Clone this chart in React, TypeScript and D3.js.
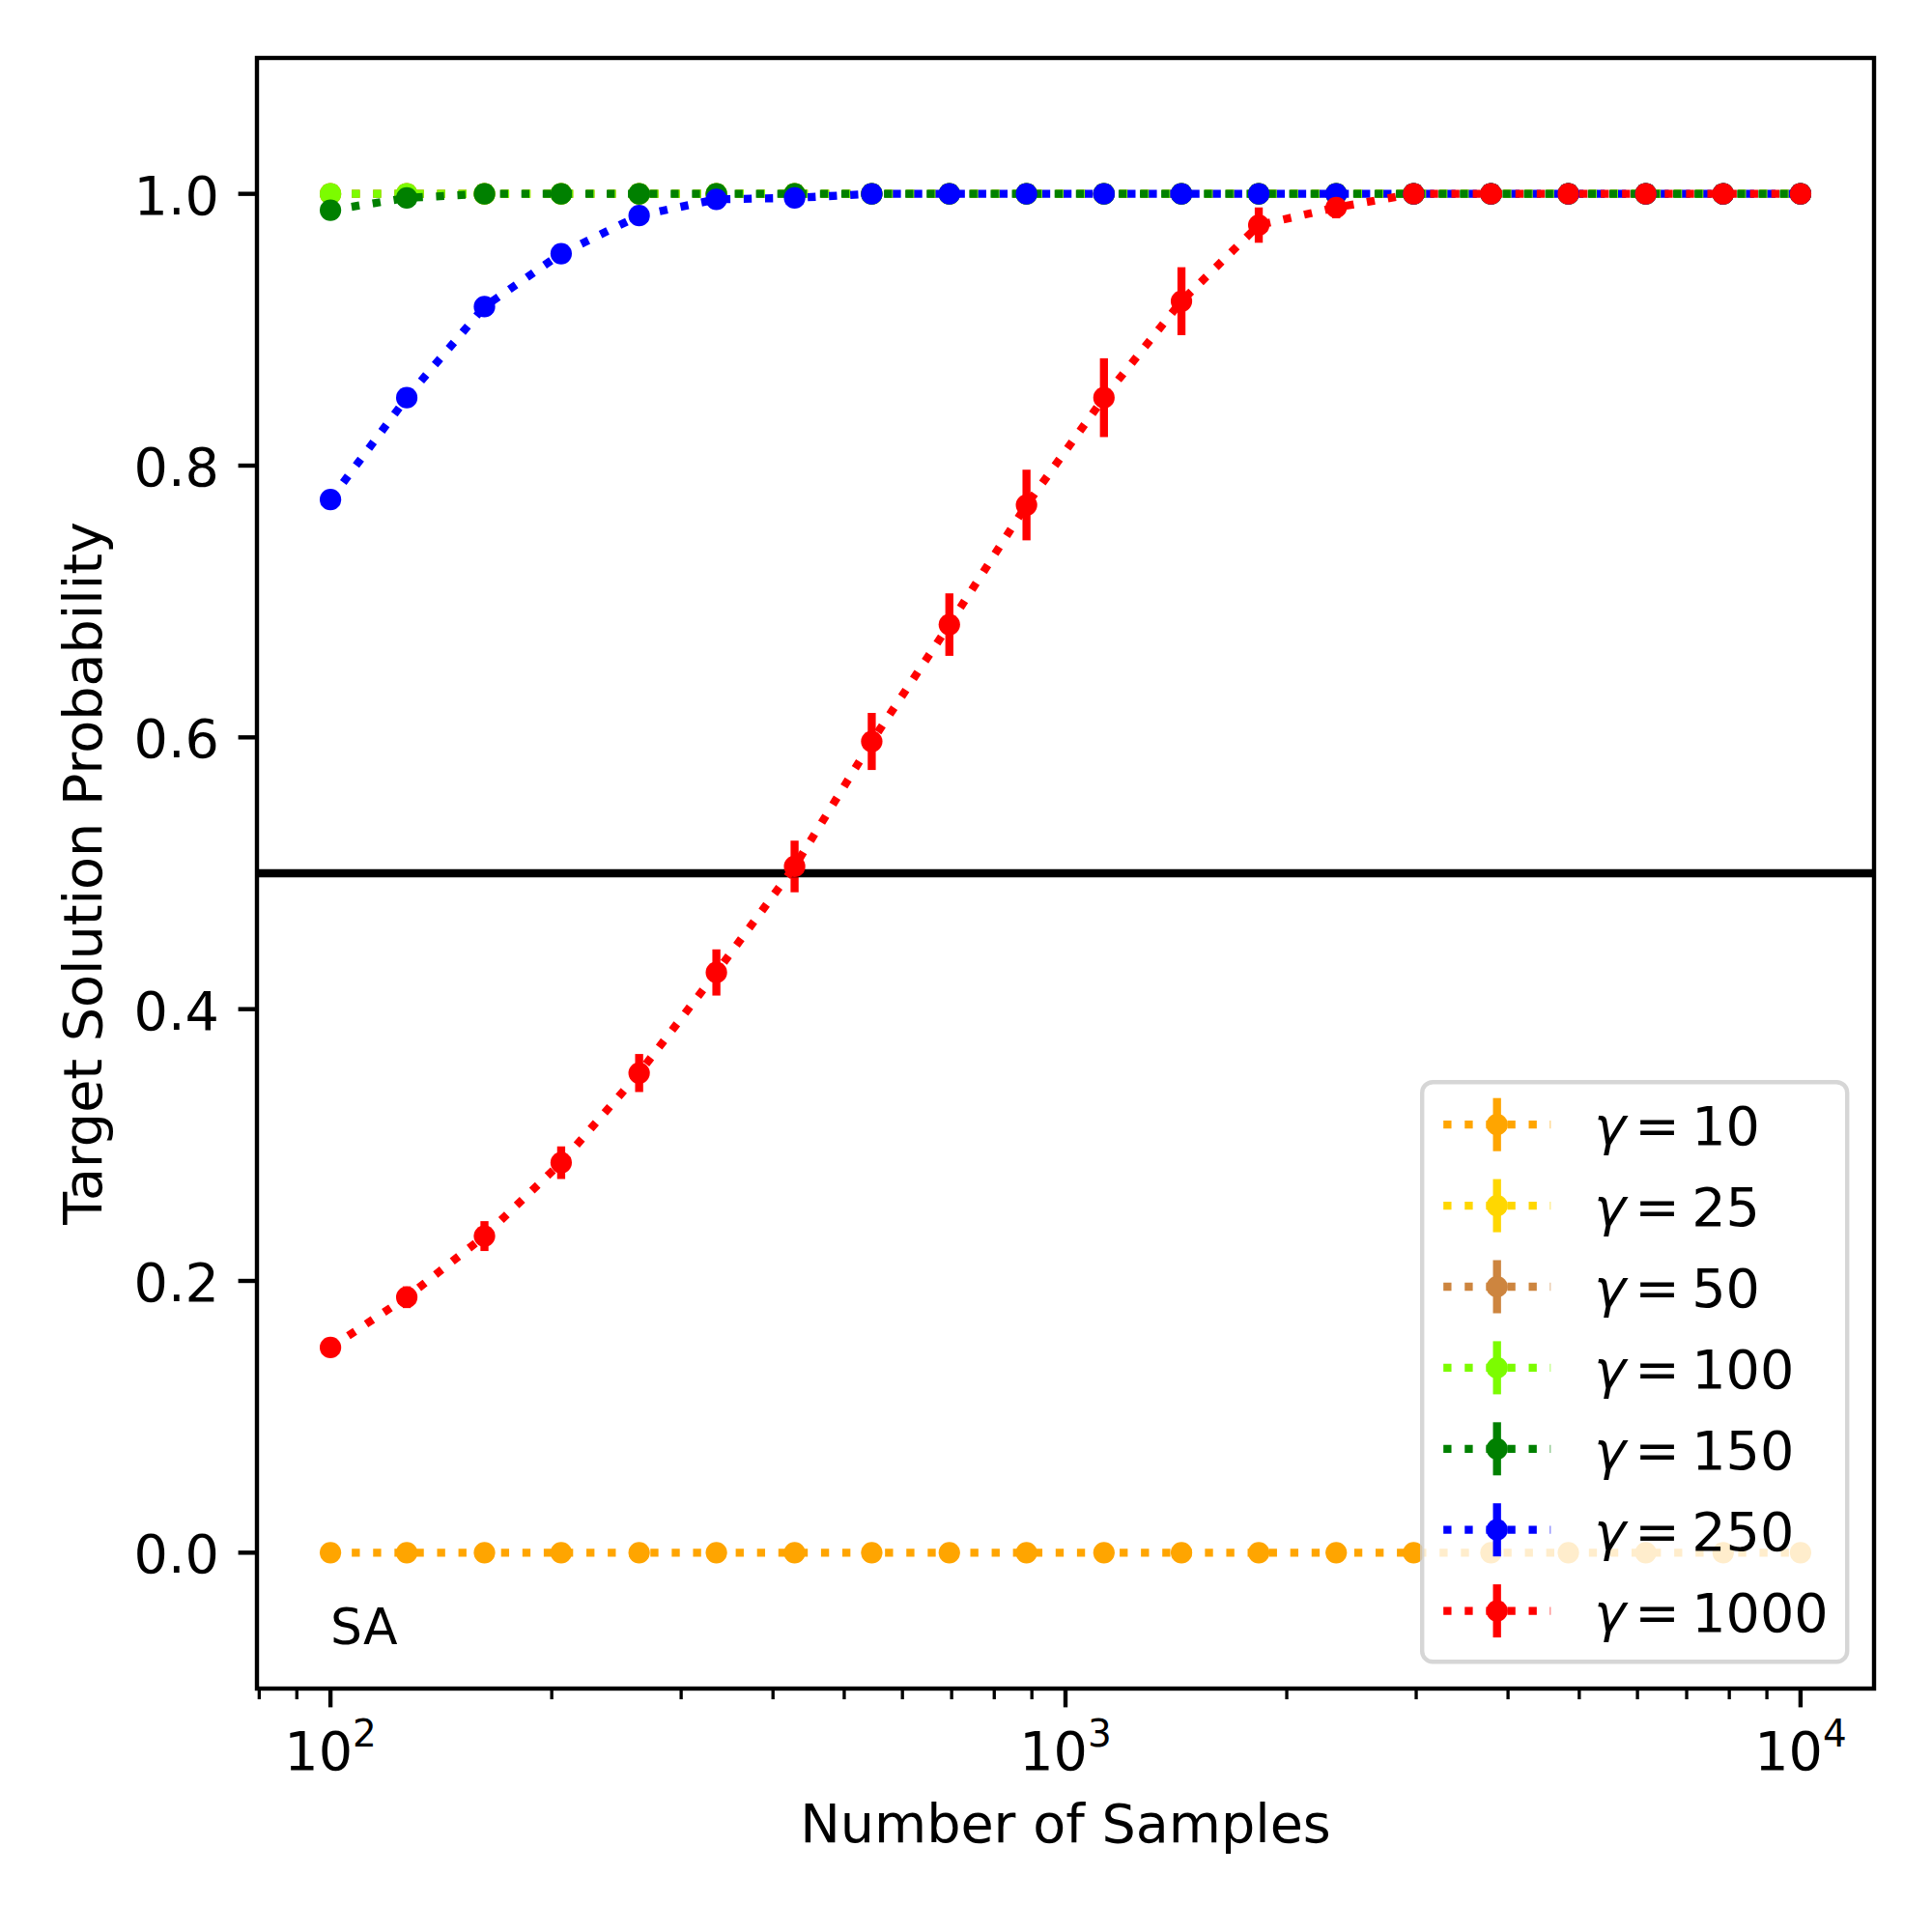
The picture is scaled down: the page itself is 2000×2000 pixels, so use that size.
import React from 'react';
import * as d3 from 'd3';

// number of samples (log-spaced, 20 points)
const sampleCounts = [100, 127, 162, 206, 263, 335, 428, 545, 695, 885, 1128, 1438, 1832, 2335, 2976, 3792, 4832, 6158, 7847, 10000];

const gammaLabels = ['10', '25', '50', '100', '150', '250', '1000'];
const gammaColors = ['orange', 'gold', 'peru', 'lawngreen', 'green', 'blue', 'red'];

const probG10 = [0, 0, 0, 0, 0, 0, 0, 0, 0, 0, 0, 0, 0, 0, 0, 0, 0, 0, 0, 0];
const probG25 = [1, 1, 1, 1, 1, 1, 1, 1, 1, 1, 1, 1, 1, 1, 1, 1, 1, 1, 1, 1];
const probG50 = [1, 1, 1, 1, 1, 1, 1, 1, 1, 1, 1, 1, 1, 1, 1, 1, 1, 1, 1, 1];
const probG100 = [1, 1, 1, 1, 1, 1, 1, 1, 1, 1, 1, 1, 1, 1, 1, 1, 1, 1, 1, 1];
const probG150 = [0.988, 0.997, 1, 1, 1, 1, 1, 1, 1, 1, 1, 1, 1, 1, 1, 1, 1, 1, 1, 1];
const probG250 = [0.775, 0.85, 0.917, 0.956, 0.984, 0.996, 0.997, 1, 1, 1, 1, 1, 1, 1, 1, 1, 1, 1, 1, 1];
const probG1000 = [0.151, 0.188, 0.233, 0.287, 0.353, 0.427, 0.505, 0.597, 0.683, 0.771, 0.85, 0.921, 0.977, 0.99, 1, 1, 1, 1, 1, 1];

const noErr = [0, 0, 0, 0, 0, 0, 0, 0, 0, 0, 0, 0, 0, 0, 0, 0, 0, 0, 0, 0];
const errG1000 = [0.004, 0.008, 0.011, 0.012, 0.014, 0.017, 0.019, 0.021, 0.023, 0.026, 0.029, 0.025, 0.013, 0.008, 0, 0, 0, 0, 0, 0];

const yTicks = [0, 0.2, 0.4, 0.6, 0.8, 1.0];
const xTicks = [100, 1000, 10000];

const series = [
  { values: probG10, errors: noErr },
  { values: probG25, errors: noErr },
  { values: probG50, errors: noErr },
  { values: probG100, errors: noErr },
  { values: probG150, errors: noErr },
  { values: probG250, errors: noErr },
  { values: probG1000, errors: errG1000 },
].map((s, i) => ({ ...s, label: gammaLabels[i], color: gammaColors[i] }));

// matplotlib sizes at 400 dpi
const FS = 55.6; // 10pt
const LW = 8.33; // 1.5pt
const DOT = '8.33 13.75';
const R = 11.1; // markersize 4
const SPINE = 4.4;

export default function App() {
  const left = 266, right = 1940, top = 60, bottom = 1748;

  const [lo, hi] = d3.extent(sampleCounts).map((v) => Math.log10(v as number));
  const pad = (hi - lo) * 0.05;
  const x = d3.scaleLog().domain([10 ** (lo - pad), 10 ** (hi + pad)]).range([left, right]);
  const y = d3.scaleLinear().domain([-0.1, 1.1]).range([bottom, top]);

  const line = d3
    .line<number>()
    .x((_, i) => x(sampleCounts[i]))
    .y((d) => y(d));

  const minorTicks = x.ticks().filter((t) => Math.abs(Math.log10(t) - Math.round(Math.log10(t))) > 1e-6);

  // legend layout (lower right)
  const legRight = right - FS * 0.5;
  const legBottom = bottom - FS * 0.5;
  const legW = 440, legH = 600;
  const legX = legRight - legW, legY = legBottom - legH;
  const rowH = 83.9;
  const firstRow = legY + 44;
  const handleX0 = legX + 22, handleX1 = handleX0 + 111;
  const handleMid = (handleX0 + handleX1) / 2;
  const textX = handleX1 + 45;

  return (
    <svg
      width={2000}
      height={2000}
      style={{ position: 'absolute', left: 0, top: 0, background: '#fff' }}
      fontFamily="'DejaVu Sans', sans-serif"
    >
      <rect width={2000} height={2000} fill="#fff" />
      <defs>
        <clipPath id="plotArea">
          <rect x={left} y={top} width={right - left} height={bottom - top} />
        </clipPath>
      </defs>

      <g clipPath="url(#plotArea)">
        {/* error bars (zorder below data lines) */}
        {series.map((s) =>
          s.values.map((v, i) =>
            s.errors[i] > 0 ? (
              <line
                key={`e-${s.label}-${i}`}
                x1={x(sampleCounts[i])}
                x2={x(sampleCounts[i])}
                y1={y(v - s.errors[i])}
                y2={y(v + s.errors[i])}
                stroke={s.color}
                strokeWidth={LW}
              />
            ) : null
          )
        )}
        {/* threshold line */}
        <line x1={left} x2={right} y1={y(0.5)} y2={y(0.5)} stroke="#000" strokeWidth={LW} />
        {/* data lines and markers */}
        {series.map((s) => (
          <g key={`s-${s.label}`}>
            <path
              d={line(s.values) || ''}
              fill="none"
              stroke={s.color}
              strokeWidth={LW}
              strokeDasharray={DOT}
              strokeLinejoin="round"
            />
            {s.values.map((v, i) => (
              <circle key={i} cx={x(sampleCounts[i])} cy={y(v)} r={R} fill={s.color} />
            ))}
          </g>
        ))}
      </g>

      <text x={x(100)} y={y(-0.067)} fontSize={52} fill="#000">SA</text>

      {/* legend */}
      <g>
        <rect
          x={legX}
          y={legY}
          width={legW}
          height={legH}
          rx={11}
          fill="#fff"
          fillOpacity={0.8}
          stroke="#ccc"
          strokeOpacity={0.8}
          strokeWidth={SPINE}
        />
        {series.map((s, i) => {
          const cy = firstRow + i * rowH;
          return (
            <g key={`l-${s.label}`}>
              <line x1={handleMid} x2={handleMid} y1={cy - 27.5} y2={cy + 27.5} stroke={s.color} strokeWidth={LW} />
              <line x1={handleX0} x2={handleX1} y1={cy} y2={cy} stroke={s.color} strokeWidth={LW} strokeDasharray={DOT} />
              <circle cx={handleMid} cy={cy} r={R} fill={s.color} />
              <text y={cy + 21} fontSize={FS} fill="#000">
                <tspan x={textX} fontStyle="oblique">γ</tspan>
                <tspan x={textX + 42}>=</tspan>
                <tspan x={textX + 101}>{s.label}</tspan>
              </text>
            </g>
          );
        })}
      </g>

      {/* y axis ticks */}
      {yTicks.map((t) => (
        <g key={`yt-${t}`}>
          <line x1={left - 19.4} x2={left} y1={y(t)} y2={y(t)} stroke="#000" strokeWidth={SPINE} />
          <text x={left - 39} y={y(t) + 21} fontSize={FS} textAnchor="end" fill="#000">
            {t.toFixed(1)}
          </text>
        </g>
      ))}

      {/* x axis ticks */}
      {minorTicks.map((t) => (
        <line key={`xm-${t}`} x1={x(t)} x2={x(t)} y1={bottom} y2={bottom + 11.1} stroke="#000" strokeWidth={3.33} />
      ))}
      {xTicks.map((t) => (
        <g key={`xt-${t}`}>
          <line x1={x(t)} x2={x(t)} y1={bottom} y2={bottom + 19.4} stroke="#000" strokeWidth={SPINE} />
          <text x={x(t)} y={1832} fontSize={FS} textAnchor="middle" fill="#000">
            <tspan>10</tspan>
            <tspan dy={-24} fontSize={FS * 0.7}>{Math.round(Math.log10(t))}</tspan>
          </text>
        </g>
      ))}

      {/* spines */}
      <rect
        x={left}
        y={top}
        width={right - left}
        height={bottom - top}
        fill="none"
        stroke="#000"
        strokeWidth={SPINE}
        strokeLinecap="square"
      />

      {/* axis labels */}
      <text x={(left + right) / 2} y={1907} fontSize={FS} textAnchor="middle" fill="#000">
        Number of Samples
      </text>
      <text
        transform={`translate(105,${(top + bottom) / 2}) rotate(-90)`}
        fontSize={FS}
        textAnchor="middle"
        fill="#000"
      >
        Target Solution Probability
      </text>
    </svg>
  );
}
